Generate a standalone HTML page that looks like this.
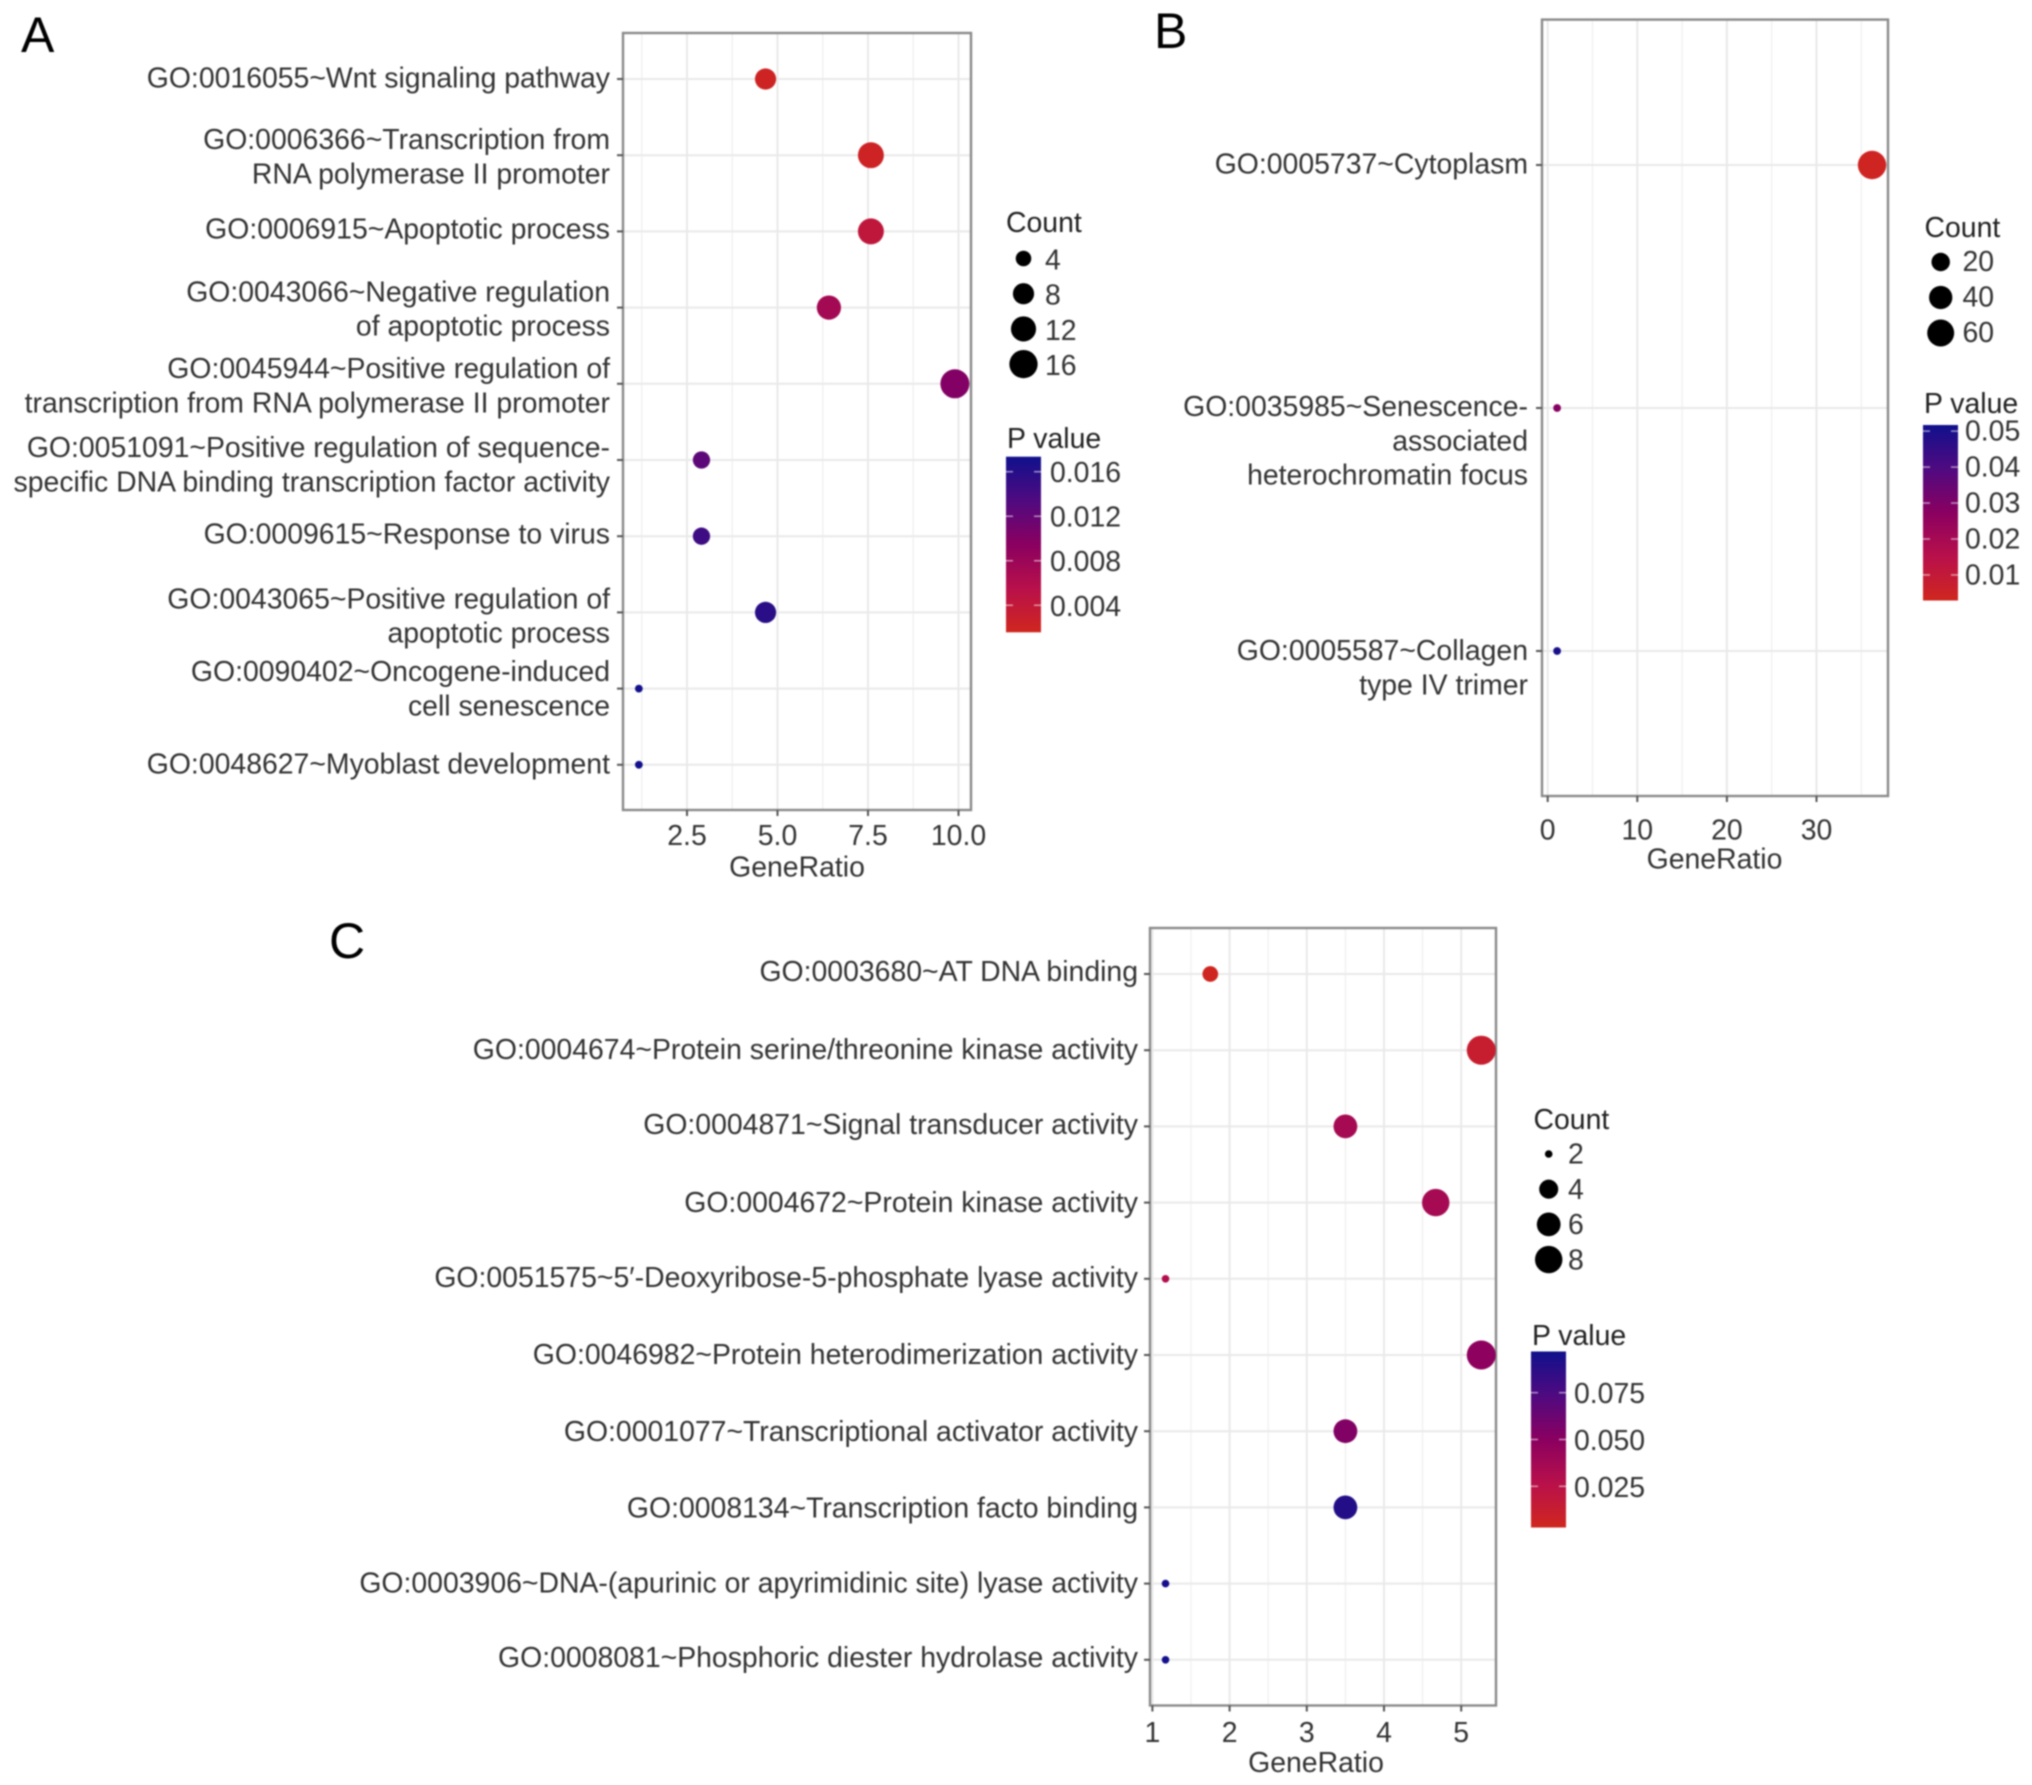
<!DOCTYPE html>
<html lang="en">
<head>
<meta charset="utf-8">
<title>GO enrichment dot plots</title>
<style>
html,body{margin:0;padding:0;background:#fff;}
#figure{display:block;width:2032px;height:1785px;filter:blur(0.7px);font-family:"Liberation Sans",Arial,sans-serif;}
</style>
</head>
<body>
<svg id="figure" xmlns="http://www.w3.org/2000/svg" width="2032" height="1785" viewBox="0 0 2032 1785">
  <defs>
    <linearGradient id="pgrad" x1="0" y1="1" x2="0" y2="0">
      <stop offset="0" stop-color="#d0261e"/>
      <stop offset="0.25" stop-color="#b8104a"/>
      <stop offset="0.5" stop-color="#8a0060"/>
      <stop offset="0.75" stop-color="#4f0a80"/>
      <stop offset="1" stop-color="#10108c"/>
    </linearGradient>
  </defs>
  <rect x="0" y="0" width="2032" height="1785" fill="#ffffff"/>
  <text x="21" y="52" font-size="50" fill="#000">A</text>
  <text x="1154" y="48" font-size="50" fill="#000">B</text>
  <text x="329" y="958" font-size="50" fill="#000">C</text>
  <g id="panel-a"></g>
  <g id="panel-b"></g>
  <g id="panel-c"></g>
</svg>
<script>
// Panel A data
const categoriesA = [
  ["GO:0016055~Wnt signaling pathway"],
  ["GO:0006366~Transcription from","RNA polymerase II promoter"],
  ["GO:0006915~Apoptotic process"],
  ["GO:0043066~Negative regulation","of apoptotic process"],
  ["GO:0045944~Positive regulation of","transcription from RNA polymerase II promoter"],
  ["GO:0051091~Positive regulation of sequence-","specific DNA binding transcription factor activity"],
  ["GO:0009615~Response to virus"],
  ["GO:0043065~Positive regulation of","apoptotic process"],
  ["GO:0090402~Oncogene-induced","cell senescence"],
  ["GO:0048627~Myoblast development"]
];
const geneRatioA = [4.67, 7.58, 7.58, 6.42, 9.9, 2.9, 2.9, 4.67, 1.17, 1.17];
const countA = [8, 13, 13, 11, 17, 5, 5, 8, 2, 2];
const pValueA = [0.002, 0.0021, 0.0043, 0.0072, 0.0099, 0.0125, 0.0145, 0.0158, 0.0172, 0.0172];
const xTicksA = [2.5, 5, 7.5, 10];
const xTickLabelsA = ["2.5", "5.0", "7.5", "10.0"];
const xMinorTicksA = [1.25, 3.75, 6.25, 8.75];
const legendCountsA = [4, 8, 12, 16];
const pTicksA = [0.016, 0.012, 0.008, 0.004];
const pTickLabelsA = ["0.016", "0.012", "0.008", "0.004"];

// Panel B data
const categoriesB = [
  ["GO:0005737~Cytoplasm"],
  ["GO:0035985~Senescence-","associated","heterochromatin focus"],
  ["GO:0005587~Collagen","type IV trimer"]
];
const geneRatioB = [36.2, 1.05, 1.05];
const countB = [69, 2, 2];
const pValueB = [0.004, 0.028, 0.05];
const xTicksB = [0, 10, 20, 30];
const xTickLabelsB = ["0", "10", "20", "30"];
const xMinorTicksB = [5, 15, 25, 35];
const legendCountsB = [20, 40, 60];
const pTicksB = [0.05, 0.04, 0.03, 0.02, 0.01];
const pTickLabelsB = ["0.05", "0.04", "0.03", "0.02", "0.01"];

// Panel C data
const categoriesC = [
  ["GO:0003680~AT DNA binding"],
  ["GO:0004674~Protein serine/threonine kinase activity"],
  ["GO:0004871~Signal transducer activity"],
  ["GO:0004672~Protein kinase activity"],
  ["GO:0051575~5\u2032-Deoxyribose-5-phosphate lyase activity"],
  ["GO:0046982~Protein heterodimerization activity"],
  ["GO:0001077~Transcriptional activator activity"],
  ["GO:0008134~Transcription facto binding"],
  ["GO:0003906~DNA-(apurinic or apyrimidinic site) lyase activity"],
  ["GO:0008081~Phosphoric diester hydrolase activity"]
];
const geneRatioC = [1.75, 5.26, 3.5, 4.67, 1.17, 5.26, 3.5, 3.5, 1.17, 1.17];
const countC = [3, 9, 6, 8, 2, 9, 6, 6, 2, 2];
const pValueC = [0.004, 0.012, 0.036, 0.036, 0.03, 0.048, 0.053, 0.09, 0.095, 0.096];
const xTicksC = [1, 2, 3, 4, 5];
const xTickLabelsC = ["1", "2", "3", "4", "5"];
const xMinorTicksC = [1.5, 2.5, 3.5, 4.5];
const legendCountsC = [2, 4, 6, 8];
const pTicksC = [0.075, 0.05, 0.025];
const pTickLabelsC = ["0.075", "0.050", "0.025"];

const NS = "http://www.w3.org/2000/svg";
const FONT = 28.4;
const colorStops = [[208,38,30],[184,16,74],[138,0,96],[79,10,128],[16,16,140]];

function mk(parent, tag, attrs, content) {
  const el = document.createElementNS(NS, tag);
  for (const k in attrs) el.setAttribute(k, attrs[k]);
  if (content !== undefined) el.textContent = content;
  parent.appendChild(el);
  return el;
}
function slug(s) {
  return s.split("~")[0].replace(":", "-").toLowerCase();
}
function pColor(t) {
  const c = Math.max(0, Math.min(1, t)) * (colorStops.length - 1);
  const i = Math.min(Math.floor(c), colorStops.length - 2);
  const f = c - i;
  const a = colorStops[i], b = colorStops[i + 1];
  return "rgb(" + [0, 1, 2].map(function (n) { return Math.round(a[n] + (b[n] - a[n]) * f); }).join(",") + ")";
}

function drawPanel(cfg) {
  const root = document.getElementById(cfg.id);
  const xScale = function (v) { return cfg.x0 + (v - cfg.xRef) * cfg.xUnit; };
  const yScale = function (i) { return cfg.row0 + i * cfg.rowStep; };
  const rScale = function (c) {
    return cfg.rMin + (cfg.rMax - cfg.rMin) * Math.sqrt((c - cfg.cMin) / (cfg.cMax - cfg.cMin));
  };
  const tScale = function (p) { return (p - cfg.pMin) / (cfg.pMax - cfg.pMin); };
  const barY = function (p) { return cfg.barBottom - tScale(p) * (cfg.barBottom - cfg.barTop); };

  cfg.minor.forEach(function (v) {
    const l = mk(root, "line", {x1: xScale(v), x2: xScale(v), y1: cfg.top, y2: cfg.bottom, stroke: "#f2f2f2", "stroke-width": 1.5});
    
    
  });
  cfg.xTicks.forEach(function (v) {
    const l = mk(root, "line", {x1: xScale(v), x2: xScale(v), y1: cfg.top, y2: cfg.bottom, stroke: "#e9e9e9", "stroke-width": 2});
    
    
  });
  cfg.cats.forEach(function (lines, i) {
    const l = mk(root, "line", {x1: cfg.left, x2: cfg.right, y1: yScale(i), y2: yScale(i), stroke: "#e9e9e9", "stroke-width": 2});
    
    
  });

  const frame = mk(root, "rect", {x: cfg.left, y: cfg.top, width: cfg.right - cfg.left, height: cfg.bottom - cfg.top, fill: "none", stroke: "#8a8a8a", "stroke-width": 2.4});
  
  

  cfg.xTicks.forEach(function (v, i) {
    const t = mk(root, "line", {x1: xScale(v), x2: xScale(v), y1: cfg.bottom, y2: cfg.bottom + 6, stroke: "#555", "stroke-width": 2});
    
    
    const lab = mk(root, "text", {x: xScale(v), y: cfg.tickLabelY + 10, "font-size": FONT, fill: "#333", "text-anchor": "middle"}, cfg.xLabels[i]);
    
    
  });

  const title = mk(root, "text", {x: cfg.xTitleX, y: cfg.xTitleY + 10, "font-size": FONT, fill: "#333", "text-anchor": "middle"}, "GeneRatio");
  
  

  cfg.cats.forEach(function (lines, i) {
    const ry = yScale(i);
    const t = mk(root, "line", {x1: cfg.left - 6, x2: cfg.left, y1: ry, y2: ry, stroke: "#555", "stroke-width": 2});
    
    
    const lineH = 34.2;
    lines.forEach(function (s, j) {
      let cy;
      if (cfg.labelTop) {
        cy = ry + j * lineH;
      } else {
        cy = ry + (j - (lines.length - 1) / 2) * lineH + (lines.length > 1 ? 2.5 : 0);
      }
      cy += cfg.labelNudge[i];
      const lab = mk(root, "text", {x: cfg.labelRight, y: cy + 10, "font-size": FONT, fill: "#333", "text-anchor": "end"}, s);
      
      
    });
  });

  cfg.ratio.forEach(function (v, i) {
    const d = mk(root, "circle", {cx: xScale(v), cy: yScale(i), r: rScale(cfg.count[i]), fill: pColor(tScale(cfg.p[i]))});
    
    
  });

  const countTitle = mk(root, "text", {x: cfg.countX, y: cfg.countTitleY + 9, "font-size": FONT, fill: "#222"}, "Count");
  
  
  cfg.legend.forEach(function (c, i) {
    const ly = cfg.legendY + i * cfg.legendStep;
    const d = mk(root, "circle", {cx: cfg.legendDotX, cy: ly, r: rScale(c), fill: "#000"});
    
    
    const lab = mk(root, "text", {x: cfg.legendLabelX, y: ly + 11 + cfg.legendLabelDy, "font-size": FONT, fill: "#333"}, String(c));
    
    
  });

  const pTitle = mk(root, "text", {x: cfg.barLeft + 1, y: cfg.pTitleY + 10, "font-size": FONT, fill: "#222"}, "P value");
  
  
  const bar = mk(root, "rect", {x: cfg.barLeft, y: cfg.barTop, width: 35, height: cfg.barBottom - cfg.barTop, fill: "url(#pgrad)"});
  
  
  cfg.pTicks.forEach(function (p, i) {
    const yy = barY(p);
    const a = mk(root, "line", {x1: cfg.barLeft, x2: cfg.barLeft + 7, y1: yy, y2: yy, stroke: "#fff", "stroke-opacity": 0.55, "stroke-width": 1.5});
    
    
    const b = mk(root, "line", {x1: cfg.barLeft + 28, x2: cfg.barLeft + 35, y1: yy, y2: yy, stroke: "#fff", "stroke-opacity": 0.55, "stroke-width": 1.5});
    
    
    const lab = mk(root, "text", {x: cfg.pLabelX, y: yy + cfg.pLabelDy, "font-size": FONT, fill: "#333"}, cfg.pLabels[i]);
    
    
  });
}

drawPanel({
  id: "panel-a", cats: categoriesA, ratio: geneRatioA, count: countA, p: pValueA,
  xTicks: xTicksA, xLabels: xTickLabelsA, minor: xMinorTicksA, legend: legendCountsA, pTicks: pTicksA, pLabels: pTickLabelsA,
  left: 623, right: 971, top: 33, bottom: 810, x0: 687, xRef: 2.5, xUnit: 36.2, row0: 79, rowStep: 76.2,
  labelTop: false, labelRight: 610, labelNudge: [-1.3, -1.5, -2.8, -1.5, -1, 1.8, -2.6, 0.5, -2.8, -1.5],
  tickLabelY: 835, xTitleX: 797, xTitleY: 866.5,
  rMin: 3.9, rMax: 14.5, cMin: 2, cMax: 17, pMin: 0.00157, pMax: 0.01735,
  countX: 1006, countTitleY: 223, legendY: 258.5, legendStep: 35.2, legendDotX: 1023.5, legendLabelX: 1045, legendLabelDy: 0,
  pTitleY: 438, barLeft: 1006, barTop: 456.7, barBottom: 632.3, pLabelX: 1050, pLabelDy: 10.5
});
drawPanel({
  id: "panel-b", cats: categoriesB, ratio: geneRatioB, count: countB, p: pValueB,
  xTicks: xTicksB, xLabels: xTickLabelsB, minor: xMinorTicksB, legend: legendCountsB, pTicks: pTicksB, pLabels: pTickLabelsB,
  left: 1542, right: 1888, top: 19.6, bottom: 796, x0: 1547.7, xRef: 0, xUnit: 8.96, row0: 165, rowStep: 243,
  labelTop: true, labelRight: 1528, labelNudge: [-1.3, -1.8, -0.8],
  tickLabelY: 829.5, xTitleX: 1714.5, xTitleY: 858.5,
  rMin: 3.9, rMax: 14.2, cMin: 2, cMax: 69, pMin: 0.0029, pMax: 0.0517,
  countX: 1924.5, countTitleY: 228, legendY: 262, legendStep: 35.5, legendDotX: 1940.7, legendLabelX: 1962.5, legendLabelDy: -2,
  pTitleY: 403, barLeft: 1923, barTop: 425, barBottom: 600.5, pLabelX: 1965, pLabelDy: 9.5
});
drawPanel({
  id: "panel-c", cats: categoriesC, ratio: geneRatioC, count: countC, p: pValueC,
  xTicks: xTicksC, xLabels: xTickLabelsC, minor: xMinorTicksC, legend: legendCountsC, pTicks: pTicksC, pLabels: pTickLabelsC,
  left: 1150, right: 1496, top: 928, bottom: 1705.5, x0: 1152.4, xRef: 1, xUnit: 77.2, row0: 974, rowStep: 76.2,
  labelTop: false, labelRight: 1138, labelNudge: [-3, -1.3, -2.6, -0.8, -1.8, -0.8, 0, 0, -1.3, -2.6],
  tickLabelY: 1732, xTitleX: 1316, xTitleY: 1762,
  rMin: 3.8, rMax: 14.5, cMin: 2, cMax: 9, pMin: 0.003, pMax: 0.097,
  countX: 1533.5, countTitleY: 1120, legendY: 1154, legendStep: 35.2, legendDotX: 1548.7, legendLabelX: 1568, legendLabelDy: -1.3,
  pTitleY: 1335, barLeft: 1531, barTop: 1351.5, barBottom: 1527.5, pLabelX: 1574, pLabelDy: 10.5
});
</script>
</body>
</html>
